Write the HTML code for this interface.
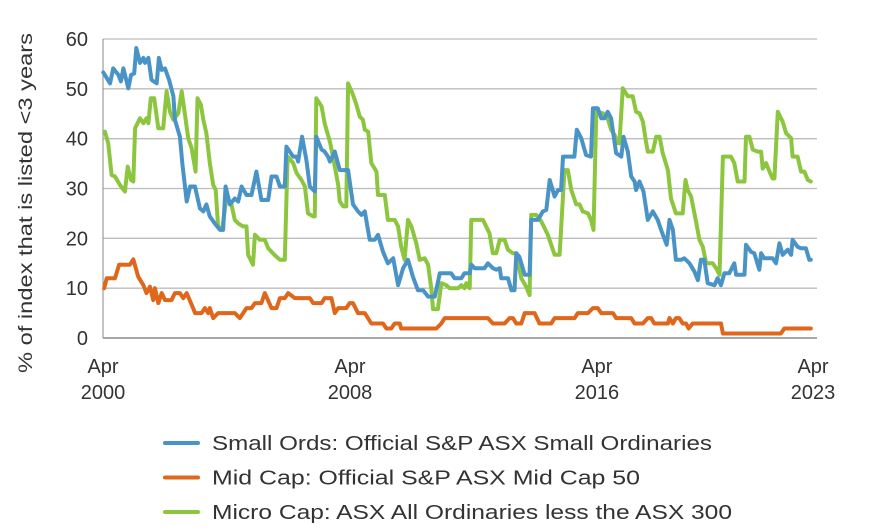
<!DOCTYPE html>
<html><head><meta charset="utf-8"><style>
html,body{margin:0;padding:0;background:#fff;}
svg{display:block;font-family:"Liberation Sans",sans-serif;}
</style></head><body>
<svg id="chart" width="884" height="531" viewBox="0 0 884 531"></svg>
<script>
const yTicks=[0,10,20,30,40,50,60];
const xTickYears=[2000.25,2008.25,2016.25,2023.25];
const xTickTop=["Apr","Apr","Apr","Apr"];
const xTickBottom=["2000","2008","2016","2023"];
const seriesNames=["Small Ords: Official S&P ASX Small Ordinaries","Mid Cap: Official S&P ASX Mid Cap 50","Micro Cap: ASX All Ordinaries less the ASX 300"];
const blueT=[2000.26,2000.48,2000.58,2000.75,2000.83,2000.91,2001.07,2001.16,2001.26,2001.33,2001.45,2001.56,2001.61,2001.72,2001.82,2001.99,2002.06,2002.15,2002.26,2002.39,2002.53,2002.58,2002.74,2002.82,2002.96,2003.07,2003.23,2003.39,2003.50,2003.60,2003.71,2003.87,2004.04,2004.14,2004.22,2004.36,2004.52,2004.63,2004.74,2004.90,2005.06,2005.22,2005.38,2005.60,2005.71,2005.87,2005.98,2006.14,2006.19,2006.41,2006.52,2006.57,2006.70,2006.84,2006.95,2007.11,2007.16,2007.33,2007.43,2007.54,2007.60,2007.76,2007.92,2008.08,2008.19,2008.35,2008.51,2008.62,2008.73,2008.89,2009.05,2009.16,2009.32,2009.48,2009.65,2009.81,2009.97,2010.13,2010.29,2010.45,2010.62,2010.78,2011.00,2011.16,2011.43,2011.53,2011.64,2011.86,2011.96,2012.13,2012.18,2012.29,2012.61,2012.72,2012.88,2012.99,2013.10,2013.15,2013.37,2013.48,2013.58,2013.64,2013.74,2013.91,2014.07,2014.12,2014.34,2014.50,2014.61,2014.72,2014.88,2014.99,2015.09,2015.15,2015.52,2015.60,2015.74,2015.90,2016.06,2016.12,2016.28,2016.39,2016.50,2016.60,2016.71,2016.87,2017.04,2017.11,2017.25,2017.36,2017.47,2017.52,2017.63,2017.76,2017.90,2018.06,2018.22,2018.33,2018.51,2018.60,2018.71,2018.81,2018.98,2019.08,2019.25,2019.41,2019.52,2019.62,2019.73,2019.84,2020.06,2020.16,2020.27,2020.38,2020.54,2020.70,2020.76,2021.03,2021.08,2021.24,2021.35,2021.51,2021.57,2021.67,2021.94,2022.05,2022.16,2022.27,2022.43,2022.54,2022.59,2022.75,2022.86,2023.02,2023.13,2023.18];
const blueV=[53.3,51.1,54.1,52.8,51.5,54.1,50.1,52.8,53.1,58.2,55.2,56.2,55.2,56.2,51.8,51.1,56.2,53.8,54.1,51.8,48.5,43.8,40.4,35.1,27.4,30.4,30.4,26.0,25.4,26.8,24.4,23.0,21.7,21.7,30.4,26.8,28.0,27.4,30.4,28.7,28.7,33.4,27.7,27.7,32.4,32.4,30.4,30.4,38.4,36.4,36.4,35.4,40.4,35.7,30.4,29.4,40.4,37.8,37.4,36.4,35.4,37.4,33.7,33.7,33.7,26.8,25.4,24.7,25.4,19.7,19.7,20.7,17.3,15.0,16.0,10.6,14.0,15.7,12.3,9.6,9.6,8.3,8.3,13.0,13.0,13.0,12.0,12.0,13.0,13.0,14.7,14.0,14.0,15.0,14.0,13.7,14.0,12.0,12.0,9.6,9.6,17.0,16.3,12.7,12.7,23.7,23.7,25.4,25.7,31.7,28.4,29.7,29.7,36.4,36.4,41.8,40.1,36.7,36.4,46.1,46.1,44.1,44.1,45.4,44.1,37.1,36.4,40.4,37.4,32.4,31.4,29.7,31.4,29.4,23.7,25.4,23.7,21.7,18.7,23.7,21.7,15.7,15.7,16.0,15.0,13.3,11.6,15.7,15.7,11.0,10.6,12.0,10.6,13.0,13.0,15.0,12.7,12.7,18.7,17.3,17.0,13.7,17.0,16.0,16.0,15.0,19.0,16.7,17.7,16.7,19.7,18.3,18.0,18.0,15.7,15.7];
const orangeT=[2000.29,2000.37,2000.64,2000.77,2001.12,2001.23,2001.39,2001.56,2001.66,2001.77,2001.88,2001.93,2002.04,2002.15,2002.26,2002.47,2002.58,2002.74,2002.85,2002.96,2003.17,2003.23,2003.44,2003.55,2003.66,2003.71,2003.82,2003.98,2004.52,2004.68,2004.90,2005.06,2005.17,2005.38,2005.49,2005.71,2005.87,2005.98,2006.14,2006.25,2006.46,2006.95,2007.06,2007.33,2007.43,2007.65,2007.76,2007.87,2008.13,2008.24,2008.35,2008.51,2008.73,2008.94,2009.32,2009.43,2009.59,2009.70,2009.86,2009.91,2011.05,2011.21,2011.32,2012.72,2012.88,2013.26,2013.42,2013.53,2013.64,2013.80,2013.91,2014.23,2014.39,2014.77,2014.88,2015.53,2015.63,2015.96,2016.12,2016.28,2016.39,2016.77,2016.87,2017.36,2017.47,2017.74,2017.90,2018.01,2018.11,2018.55,2018.60,2018.71,2018.81,2018.92,2019.03,2019.14,2019.22,2019.35,2020.27,2020.33,2022.21,2022.32,2023.18];
const orangeV=[10.0,12.0,12.0,14.7,14.7,15.8,12.3,10.6,9.0,10.3,7.6,10.0,7.0,9.0,7.6,7.6,9.0,9.0,8.0,9.0,6.0,5.0,5.0,6.0,5.0,6.0,4.0,5.0,5.0,4.0,6.0,6.0,7.0,7.0,9.0,6.0,6.0,8.0,8.0,9.0,8.0,8.0,7.0,7.0,8.0,8.0,5.0,6.0,6.0,7.0,7.0,5.0,5.0,2.9,2.9,1.9,1.9,2.9,2.9,1.9,1.9,2.9,4.0,4.0,2.9,2.9,4.0,4.0,2.9,2.9,5.0,5.0,2.9,2.9,4.0,4.0,5.0,5.0,6.0,6.0,5.0,5.0,4.0,4.0,2.9,2.9,4.0,4.0,2.9,2.9,4.0,2.9,4.0,4.0,2.9,2.9,1.9,2.9,2.9,0.9,0.9,1.9,1.9];
const greenT=[2000.31,2000.42,2000.53,2000.64,2000.80,2000.96,2001.05,2001.16,2001.23,2001.29,2001.45,2001.56,2001.66,2001.72,2001.80,2001.91,2002.04,2002.20,2002.31,2002.42,2002.53,2002.69,2002.80,2002.90,2003.01,2003.12,2003.25,2003.31,2003.42,2003.50,2003.60,2003.71,2003.82,2003.90,2003.98,2004.11,2004.25,2004.41,2004.52,2004.63,2004.79,2004.90,2004.95,2005.11,2005.17,2005.33,2005.49,2005.60,2005.71,2005.87,2005.98,2006.14,2006.23,2006.41,2006.52,2006.68,2006.79,2006.89,2007.06,2007.11,2007.16,2007.33,2007.43,2007.60,2007.70,2007.87,2007.92,2008.03,2008.13,2008.19,2008.35,2008.46,2008.57,2008.67,2008.73,2008.84,2008.94,2009.11,2009.16,2009.38,2009.48,2009.70,2009.81,2009.91,2010.02,2010.13,2010.24,2010.40,2010.51,2010.67,2010.78,2010.89,2010.94,2011.10,2011.21,2011.37,2011.48,2011.64,2011.75,2011.86,2011.96,2012.02,2012.13,2012.18,2012.56,2012.77,2012.88,2012.99,2013.10,2013.26,2013.37,2013.53,2013.64,2013.80,2013.96,2014.07,2014.12,2014.28,2014.45,2014.66,2014.88,2015.04,2015.20,2015.31,2015.42,2015.58,2015.69,2015.79,2015.96,2016.06,2016.14,2016.23,2016.44,2016.60,2016.71,2016.82,2016.93,2016.98,2017.09,2017.25,2017.41,2017.52,2017.63,2017.74,2017.84,2017.90,2018.06,2018.17,2018.28,2018.38,2018.55,2018.65,2018.81,2019.03,2019.12,2019.19,2019.30,2019.46,2019.57,2019.68,2019.79,2020.00,2020.11,2020.22,2020.33,2020.59,2020.70,2020.81,2021.03,2021.08,2021.19,2021.30,2021.46,2021.57,2021.62,2021.73,2021.84,2021.94,2022.00,2022.11,2022.27,2022.38,2022.54,2022.59,2022.75,2022.86,2022.97,2023.08,2023.18];
const greenV=[41.4,39.1,32.7,32.4,30.7,29.4,34.4,31.7,31.4,42.1,44.1,43.1,44.1,43.1,48.1,48.1,42.1,42.1,49.5,45.4,43.8,45.1,49.5,45.1,40.1,38.1,33.4,48.1,46.8,43.8,41.1,35.1,30.7,29.7,22.4,21.7,28.4,26.8,23.7,23.0,22.4,22.4,16.7,14.7,20.7,19.7,19.7,18.0,17.3,16.3,15.7,15.7,36.4,35.1,33.1,31.7,30.4,25.0,24.4,24.4,48.1,46.5,43.1,39.4,36.4,30.7,27.4,26.4,26.4,51.1,48.8,46.8,44.4,43.8,41.8,41.4,35.1,33.4,28.7,28.7,23.7,23.7,22.4,18.3,15.7,23.7,22.4,19.0,15.7,16.0,14.7,9.6,5.8,5.8,11.0,10.6,10.0,10.0,10.0,10.6,10.0,11.0,10.0,23.7,23.7,21.0,17.0,17.0,19.7,19.7,17.7,17.0,17.0,12.0,10.3,8.6,24.7,24.7,23.4,20.7,16.7,16.7,33.7,33.7,29.7,26.8,26.8,25.4,25.0,23.7,21.7,45.4,45.1,44.1,41.8,40.8,39.1,39.1,50.1,48.5,48.5,45.4,45.1,43.4,39.4,37.4,37.4,40.4,40.4,37.1,33.7,28.0,25.0,25.0,31.7,29.7,28.4,23.4,19.7,18.3,15.0,15.0,14.0,12.7,36.4,36.4,35.1,31.4,31.4,40.4,40.4,37.8,37.4,37.4,34.0,35.1,33.4,32.0,32.0,45.4,43.4,41.1,40.1,36.4,36.4,33.4,33.4,31.7,31.4];

const NS="http://www.w3.org/2000/svg";
const svg=document.getElementById('chart');
const X0=103,X1=813,T0=2000.25,T1=2023.25,Y0=338,Y1=39;
function xs(t){return X0+(t-T0)/(T1-T0)*(X1-X0);}
function ys(v){return Y0-v/60*(Y0-Y1);}
function mk(tag,attrs){const e=document.createElementNS(NS,tag);for(const k in attrs)e.setAttribute(k,attrs[k]);svg.appendChild(e);return e;}

yTicks.forEach((v,i)=>{
  if(v>0){const g=mk('line',{x1:X0,x2:817,y1:ys(v),y2:ys(v),stroke:'#bdbdbd','stroke-width':1.3});
  
  }
  const t=mk('text',{x:88,y:ys(v)+7,'text-anchor':'end','font-size':20,fill:'#333'});
  t.textContent=v;
  
  
});
const ax=mk('line',{x1:X0,x2:817,y1:Y0,y2:Y0,stroke:'#8a8a8a','stroke-width':1.5});


const yax=mk('line',{x1:X0,x2:X0,y1:Y1,y2:Y0,stroke:'#8a8a8a','stroke-width':1});



xTickYears.forEach((t,i)=>{
  const a=mk('text',{x:xs(t),y:373,'text-anchor':'middle','font-size':20,fill:'#333'});
  a.textContent=xTickTop[i];
  
  
  const b=mk('text',{x:xs(t),y:399,'text-anchor':'middle','font-size':20,fill:'#333'});
  b.textContent=xTickBottom[i];
  
  
});

const yt=mk('text',{x:0,y:0,'text-anchor':'middle','font-size':19,fill:'#333',transform:'translate(32,203) rotate(-90)',textLength:340,lengthAdjust:'spacingAndGlyphs'});
yt.textContent='% of index that is listed <3 years';



function line(T,V,color,name){
  const d=T.map((t,i)=>(i?'L':'M')+xs(t).toFixed(1)+','+ys(V[i]).toFixed(1)).join('');
  const p=mk('path',{d:d,fill:'none',stroke:color,'stroke-width':4,'stroke-linejoin':'round','stroke-linecap':'round'});
  
  
}
line(orangeT,orangeV,'#e0661c','mid-cap-line');
line(greenT,greenV,'#8cc63f','micro-cap-line');
line(blueT,blueV,'#4a93c6','small-ords-line');

const colors=['#4a93c6','#e0661c','#8cc63f'];
const lens=[500,428,520];
seriesNames.forEach((n,i)=>{
  const y=443+i*34.5;
  const l=mk('line',{x1:165,x2:198,y1:y,y2:y,stroke:colors[i],'stroke-width':4,'stroke-linecap':'round'});
  
  
  const t=mk('text',{x:212,y:y+7,'font-size':20,fill:'#333',textLength:lens[i],lengthAdjust:'spacingAndGlyphs'});
  t.textContent=n;
  
  
});
</script>
</body></html>
